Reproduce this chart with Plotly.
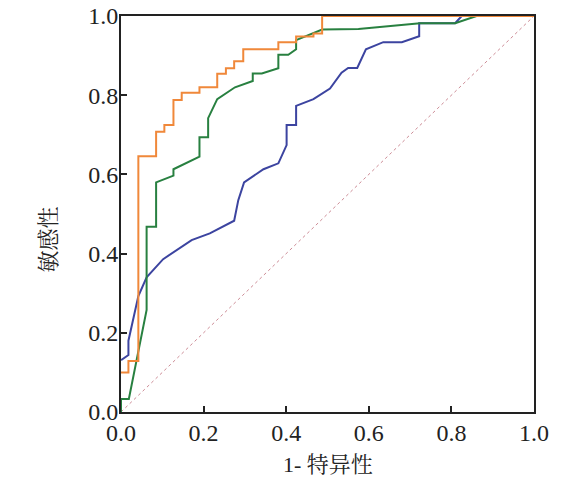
#ROC curves - three models plus the chance line
import plotly.graph_objects as go

#values (1-specificity, sensitivity)
orange_fpr=[0,0.018,0.018,0.042,0.042,0.085,0.085,0.105,0.105,0.127,0.127,0.147,0.147,0.19,0.19,0.233,0.233,0.254,0.254,0.274,0.274,0.296,0.296,0.381,0.381,0.424,0.424,0.466,0.466,0.487,0.487,1.0]
orange_tpr=[0.1,0.1,0.129,0.129,0.646,0.646,0.708,0.708,0.725,0.725,0.788,0.788,0.806,0.806,0.82,0.82,0.854,0.854,0.868,0.868,0.886,0.886,0.916,0.916,0.934,0.934,0.948,0.948,0.956,0.956,1.0,1.0]

green_fpr=[0,0,0.019,0.062,0.062,0.085,0.085,0.127,0.127,0.19,0.19,0.211,0.211,0.233,0.276,0.319,0.319,0.341,0.381,0.381,0.405,0.424,0.424,0.487,0.575,0.724,0.809,0.861,1.0]
green_tpr=[0,0.033,0.033,0.258,0.468,0.468,0.58,0.597,0.613,0.645,0.694,0.694,0.742,0.79,0.82,0.836,0.855,0.855,0.868,0.902,0.902,0.916,0.939,0.966,0.967,0.982,0.982,1.0,1.0]

blue_fpr=[0,0.018,0.018,0.042,0.062,0.102,0.171,0.215,0.274,0.284,0.298,0.345,0.381,0.401,0.401,0.424,0.424,0.466,0.506,0.534,0.55,0.572,0.593,0.635,0.68,0.722,0.722,0.809,0.825,1.0]
blue_tpr=[0.131,0.144,0.18,0.293,0.34,0.386,0.434,0.451,0.483,0.535,0.58,0.613,0.628,0.674,0.725,0.725,0.773,0.79,0.817,0.857,0.869,0.869,0.916,0.934,0.934,0.949,0.982,0.982,1.0,1.0]

chance=[0,1]
tick_vals=[0,0.2,0.4,0.6,0.8,1.0]

fig=go.Figure()

fig.add_trace(go.Scatter(x=chance,y=chance,mode='lines',
    line=dict(color='rgb(205,140,150)',width=1,dash='dot'),showlegend=False))
fig.add_trace(go.Scatter(x=blue_fpr,y=blue_tpr,mode='lines',
    line=dict(color='rgb(60,68,160)',width=2),showlegend=False))
fig.add_trace(go.Scatter(x=green_fpr,y=green_tpr,mode='lines',
    line=dict(color='rgb(40,128,64)',width=2),showlegend=False))
fig.add_trace(go.Scatter(x=orange_fpr,y=orange_tpr,mode='lines',
    line=dict(color='rgb(240,136,58)',width=2),showlegend=False))

axis_style=dict(range=[0,1],tickvals=tick_vals,tickformat='.1f',
    ticks='inside',ticklen=6,tickwidth=1.5,tickcolor='#222',
    showline=True,linewidth=2,linecolor='#222',mirror=True,
    showgrid=False,zeroline=False,ticklabeloverflow='allow',automargin=False,
    tickfont=dict(family='Liberation Serif, Times New Roman, serif',size=24,color='#222'))

#page body has an 8px margin, so the figure is a bit smaller than the window
fig.update_layout(
    width=549,height=468,
    margin=dict(l=113,r=23,t=8,b=64,autoexpand=False),
    paper_bgcolor='white',plot_bgcolor='white',
    xaxis=dict(axis_style,ticklabelstandoff=-2),
    yaxis=dict(axis_style,ticklabelstandoff=-4),
    annotations=[
        dict(text='1- 特异性',xref='paper',yref='paper',x=0.5,y=-0.095,
             xanchor='center',yanchor='top',showarrow=False,
             font=dict(family='Liberation Serif, Noto Serif CJK SC, Noto Sans CJK SC',size=22,color='#222')),
        dict(text='敏感性',xref='paper',yref='paper',x=-0.175,y=0.435,
             xanchor='center',yanchor='middle',showarrow=False,textangle=-90,
             font=dict(family='Liberation Serif, Noto Serif CJK SC, Noto Sans CJK SC',size=22,color='#222')),
    ]
)

fig.write_html("out.html")
